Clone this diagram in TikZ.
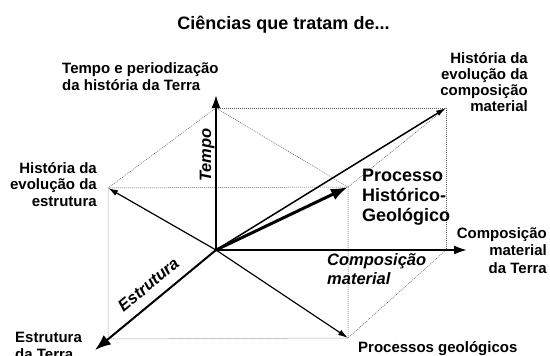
\documentclass[tikz,border=0pt]{standalone}
\usepackage{fontspec}
\setmainfont{Liberation Sans}
\usetikzlibrary{arrows.meta}

\begin{document}
\begin{tikzpicture}[x=1pt,y=1pt]
\tikzstyle{every node}+=[inner sep=0pt, font=\bfseries\fontsize{15}{16.5}\selectfont]
\tikzstyle{frame}=[black!65, line width=0.5pt, dash pattern=on 1pt off 1pt]
\tikzstyle{axis}=[black, line width=2pt, -{Latex[length=13pt,width=9pt]}]
\tikzstyle{ray}=[black, line width=1.2pt, -{Latex[length=10pt,width=6pt]}]
\tikzstyle{axislabel}=[font=\bfseries\itshape\fontsize{16.5}{19}\selectfont]
\useasboundingbox (0,0) rectangle (550,-356);
% corners of the box
\coordinate (O) at (216,-250);
\coordinate (T) at (216,-108);
\coordinate (C) at (446,-250);
\coordinate (TE) at (108,-188);
\coordinate (TC) at (446,-108);
\coordinate (CE) at (348,-338);
\coordinate (E) at (108,-339);
\coordinate (P) at (348,-187);
% arrow ends
\coordinate (Ttip) at (216,-95);
\coordinate (Ctip) at (467,-250);
\coordinate (Etip) at (95,-350);
% dotted box
\draw [frame] (T) -- (TC) -- (C);
\draw [frame] (T) -- (TE) -- (E) -- (CE) -- (C);
\draw [frame] (TE) -- (P) -- (CE);
\draw [frame] (T) -- (P) -- (TC);
% arrows
\draw [axis] (O) -- (Ttip);
\draw [axis] (O) -- (Ctip);
\draw [axis, -{Latex[length=16pt,width=12pt]}] (O) -- (Etip);
\draw [ray] (O) -- (TE);
\draw [ray] (O) -- (CE);
\draw [ray, line width=1.5pt] (O) -- (TC);
\draw [black, line width=3pt, -{Latex[length=17pt,width=12pt]}] (O) -- (P);
% texts (base = last line)
\node (title) [anchor=base, font=\bfseries\fontsize{18}{20}\selectfont] at (283.5,-30) {Ciências que tratam de...};
\node (ttempo) [anchor=base west, align=left] at (62,-90) {Tempo e periodização\\da história da Terra};
\node (testr) [anchor=base east, align=right] at (97,-206) {História da\\evolução da\\estrutura};
\node (tcomp) [anchor=base east, align=right, font=\bfseries\fontsize{15}{16}\selectfont] at (528,-111) {História da\\evolução da\\composição\\material};
\node (tmat) [anchor=base east, align=right, font=\bfseries\fontsize{15}{17.5}\selectfont] at (547,-273) {Composição\\material\\da Terra};
\node (tterra) [anchor=base west, align=left, font=\bfseries\fontsize{15}{17}\selectfont] at (15,-359) {Estrutura\\da Terra};
\node (tproc) [anchor=base west] at (358,-352) {Processos geológicos};
\node (thist) [anchor=base west, align=left, font=\bfseries\fontsize{18}{20}\selectfont] at (362,-221) {Processo\\Histórico-\\Geológico};
\node (ltempo) [axislabel, anchor=base, rotate=90] at (211,-155) {Tempo};
\node (lestr) [axislabel, anchor=base, rotate=39.6] at (152,-289) {Estrutura};
\node (lcomp) [axislabel, anchor=base west, align=left] at (327,-284) {Composição\\material};
\end{tikzpicture}
\end{document}
